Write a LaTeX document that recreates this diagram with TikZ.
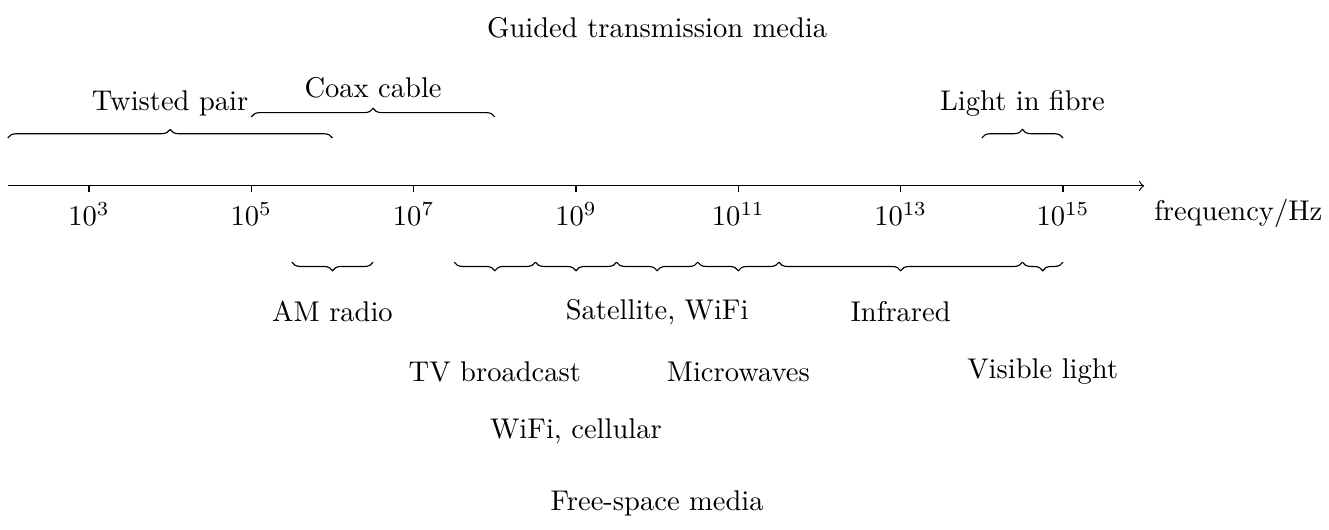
\documentclass[tikz,border=0pt]{standalone}
\usepackage{tikz}
\usetikzlibrary{decorations.pathreplacing, positioning}

\begin{document}
\begin{tikzpicture}[
		brace/.style={decorate,decoration={brace,amplitude=3pt}},
		mbrace/.style={decorate,decoration={brace,mirror,amplitude=3pt}}]
		\useasboundingbox (1.904,-4.238) rectangle (18.277,2.29);
		%		\draw[step=1,black!20,thin] (2,-4) grid (16,2);
		
		% frequency axis, one unit per decade
		\coordinate (O) at (2,0);
		\coordinate (E) at (16,0);
		\draw[->] (O) -- (E);
		\foreach \e in {3,5,...,15}
			\draw (\e,0) -- (\e,-0.08) node[below] (t\e) {$10^{\e}$};
		\node[anchor=west] (F) at (16,-0.34) {frequency/Hz};
		
		% guided media
		\node (G) at (10,1.95) {Guided transmission media};
		\draw[brace] (2,0.59) -- (6,0.59);
		\node (TP) at (4,1.02) {Twisted pair};
		\draw[brace] (5,0.85) -- (8,0.85);
		\node (CX) at (6.5,1.21) {Coax cable};
		\draw[brace] (14,0.59) -- (15,0.59);
		\node (LF) at (14.5,1.02) {Light in fibre};
		
		% free-space media
		\draw[mbrace] (5.5,-0.94) -- (6.5,-0.94);
		\draw[mbrace] (7.5,-0.94) -- (8.5,-0.94);
		\draw[mbrace] (8.5,-0.94) -- (9.5,-0.94);
		\draw[mbrace] (9.5,-0.94) -- (10.5,-0.94);
		\draw[mbrace] (10.5,-0.94) -- (11.5,-0.94);
		\draw[mbrace] (11.5,-0.94) -- (14.5,-0.94);
		\draw[mbrace] (14.5,-0.94) -- (15,-0.94);
		\node (AM) at (6,-1.55) {AM radio};
		\node (TV) at (8,-2.29) {TV broadcast};
		\node (WC) at (9,-3.03) {WiFi, cellular};
		\node (SW) at (10,-1.55) {Satellite, WiFi};
		\node (MW) at (11,-2.29) {Microwaves};
		\node (IR) at (13,-1.55) {Infrared};
		\node (VL) at (14.75,-2.29) {Visible light};
		\node (FS) at (10,-3.91) {Free-space media};
		\end{tikzpicture}
\end{document}
